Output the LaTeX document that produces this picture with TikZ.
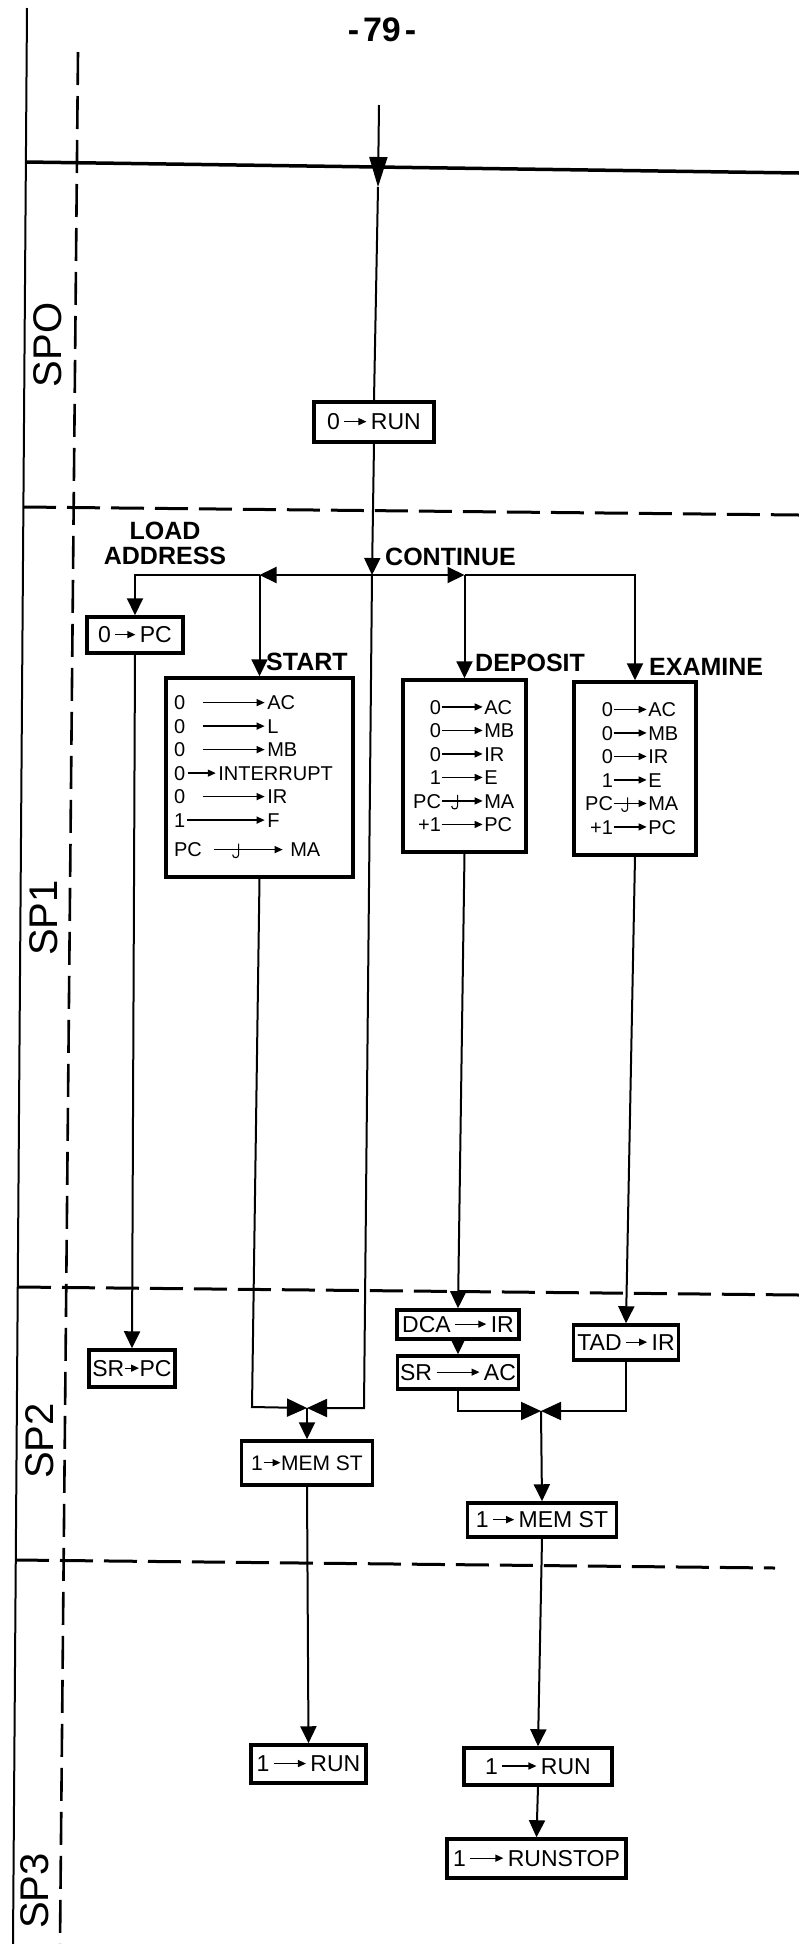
\documentclass[tikz,border=0pt]{standalone}
\usepackage{fontspec}
\setmainfont{Liberation Sans}
\usepackage{tikz}
\usetikzlibrary{arrows.meta,calc,positioning}

\newcommand{\boxfont}{\fontsize{20}{23.5}\selectfont}
\newcommand{\onefont}{\fontsize{23}{26}\selectfont}
\newcommand{\labfont}{\fontsize{25}{25}\selectfont\bfseries}
\newcommand{\sidefont}{\fontsize{40}{44}\selectfont}
% small hand arrows inside the boxes
\newcommand{\toarr}[1]{\tikz[baseline=-0.36em]\draw[line width=1.3pt,-{Triangle[length=8pt,width=7pt]}] (0pt,0pt) -- (#1pt,0pt);}
\newcommand{\jarr}[2]{\tikz[baseline=-0.36em]{\draw[line width=1.3pt,-{Triangle[length=8pt,width=7pt]}] (0pt,0pt) -- (#1pt,0pt);
  \draw[line width=1.1pt] (#2pt,6pt) -- (#2pt,-5pt) .. controls (#2pt,-9pt) and (#2pt-6pt,-9pt) .. (#2pt-6pt,-5pt);}}

\begin{document}
\begin{tikzpicture}[x=1pt, y=-1pt, every node/.style={font=\boxfont},
  box/.style={draw, line width=3.5pt, inner sep=0pt, align=center},
  one/.style={box, font=\onefont},
  flow/.style={line width=2pt},
  tip/.style={flow, -{Triangle[length=17pt,width=16pt]}},
  bigtip/.style={flow, -{Triangle[length=30pt,width=18pt]}},
  meet/.style={flow, -{Triangle[length=20pt,width=18pt]}},
  lab/.style={font=\labfont, inner sep=0pt},
  side/.style={font=\sidefont, rotate=90, inner sep=0pt},
  sep/.style={line width=3pt, dash pattern=on 33pt off 11pt}]
  \fill[white] (0,0) rectangle (799,1944);
  \useasboundingbox (0,0) rectangle (799,1944);

  % page frame and phase separators
  \draw[line width=2pt] (27,8) -- (13,1944);
  \draw[sep, line width=2.6pt] (78,52) -- (60,1944);
  \draw[line width=3.5pt] (26,162) -- (799,173);
  \draw[sep] (23,507) -- (799,515);
  \draw[sep] (18,1287) -- (799,1295);
  \draw[sep] (16,1560) -- (775,1568);

  \node[font=\fontsize{34}{36}\selectfont\bfseries] (pagenum) at (382,30) {-\kern4pt79\kern4pt-};
  \node[side] (sp0) at (48,345) {SPO};
  \node[side] (sp1) at (44,918) {SP1};
  \node[side] (sp2) at (40,1441) {SP2};
  \node[side] (sp3) at (35,1891) {SP3};

  % SP0
  \node[one, minimum width=120pt, minimum height=40pt] (run0) at (374,422) {0\,\toarr{22}\,RUN};

  % SP1
  \node[one, minimum width=96pt, minimum height=36pt] (pc0) at (135,635) {0\,\toarr{20}\,PC};
  \node[box, minimum width=187pt, minimum height=199pt, inner xsep=8pt, text width=171pt, align=left] (startbox) at (259.5,777.5) {%
    \makebox[28pt][l]{0}\toarr{62}\kern2pt AC\\
    \makebox[28pt][l]{0}\toarr{62}\kern2pt L\\
    \makebox[28pt][l]{0}\toarr{62}\kern2pt MB\\
    0\kern2pt\toarr{28}\kern2pt INTERRUPT\\
    \makebox[28pt][l]{0}\toarr{62}\kern2pt IR\\
    \makebox[12pt][l]{1}\toarr{78}\kern2pt F\\[6pt]
    \makebox[39pt][l]{PC}\jarr{69}{25}\kern7pt MA};
  \node[box, minimum width=123pt, minimum height=172pt, inner xsep=7pt, text width=109pt, align=left] (depbox) at (464.5,766) {%
    \makebox[31pt][r]{0}\toarr{41}\kern1pt AC\\
    \makebox[31pt][r]{0}\toarr{41}\kern1pt MB\\
    \makebox[31pt][r]{0}\toarr{41}\kern1pt IR\\
    \makebox[31pt][r]{1}\toarr{41}\kern1pt E\\
    \makebox[31pt][r]{PC}\jarr{41}{16}\kern1pt MA\\
    \makebox[31pt][r]{+1}\toarr{41}\kern1pt PC};
  \node[box, minimum width=122pt, minimum height=173pt, inner xsep=6pt, text width=110pt, align=left] (exbox) at (635,768.5) {%
    \makebox[33pt][r]{0}\toarr{33}\kern1pt AC\\
    \makebox[33pt][r]{0}\toarr{33}\kern1pt MB\\
    \makebox[33pt][r]{0}\toarr{33}\kern1pt IR\\
    \makebox[33pt][r]{1}\toarr{33}\kern1pt E\\
    \makebox[33pt][r]{PC}\jarr{33}{14}\kern1pt MA\\
    \makebox[33pt][r]{+1}\toarr{33}\kern1pt PC};

  \node[lab, align=center] (loadlab) at (165,543) {LOAD\\ADDRESS};
  \node[lab, anchor=west] (contlab) at (385,557) {CONTINUE};
  \node[lab, anchor=west] (startlab) at (266,662) {START};
  \node[lab, anchor=west] (deplab) at (475,663) {DEPOSIT};
  \node[lab, anchor=west] (exlab) at (649,667) {EXAMINE};

  % SP2
  \node[one, minimum width=86pt, minimum height=37pt] (srpc) at (132,1368.5) {SR\toarr{14}PC};
  \node[one, minimum width=122pt, minimum height=29pt] (dca) at (458,1324.5) {DCA\,\toarr{31}\,IR};
  \node[one, minimum width=121pt, minimum height=33pt] (srac) at (458,1372.5) {SR\,\toarr{43}\,AC};
  \node[one, minimum width=105pt, minimum height=35pt] (tad) at (626,1342.5) {TAD\,\toarr{21}\,IR};
  \node[one, minimum width=131pt, minimum height=44pt, font=\fontsize{21}{24}\selectfont] (memL) at (307,1463) {1\toarr{17}MEM ST};
  \node[one, minimum width=149pt, minimum height=34pt] (memR) at (542,1520) {1\,\toarr{21}\,MEM ST};

  % SP3
  \node[one, minimum width=115pt, minimum height=38pt] (runL) at (308.5,1764) {1\,\toarr{32}\,RUN};
  \node[one, minimum width=148pt, minimum height=37pt] (runR) at (538,1766.5) {1\,\toarr{34}\,RUN};
  \node[one, minimum width=179pt, minimum height=39pt] (runstop) at (536.5,1858.5) {1\,\toarr{33}\,RUNSTOP};

  % junctions
  \coordinate (top) at (379,105);
  \coordinate (ain) at (378,187);
  \coordinate (jc) at (372,575);
  \coordinate (js) at (startbox.north |- jc);
  \coordinate (jd) at (depbox.north |- jc);
  \coordinate (je) at (exbox.north |- jc);
  \coordinate (cm) at (364,1408);
  \coordinate (sm) at (252,1407);
  \coordinate (mL) at (memL.north |- cm);
  \coordinate (mR) at (541,1411);
  \coordinate (rl) at (srac.south |- mR);
  \coordinate (rr) at (tad.south |- mR);

  % connectors
  \draw[bigtip] (top) -- (ain);
  \draw[flow] (ain) -- (run0.north);
  \draw[tip] (run0.south) -- (jc);
  \draw[tip] (jc) -- (js);
  \draw[tip] (js) -- (pc0.north |- js) -- (pc0.north);
  \draw[tip] (js) -- (startbox.north);
  \draw[tip] (jc) -- (jd);
  \draw[tip] (jd) -- (depbox.north);
  \draw[tip] (jd) -- (je) -- (exbox.north);
  \draw[tip] (pc0.south) -- (srpc.north);
  \draw[tip] (depbox.south) -- (dca.north);
  \draw[tip] (dca.south) -- (srac.north);
  \draw[tip] (exbox.south) -- (tad.north);
  \draw[meet] (startbox.south) -- (sm) -- (mL);
  \draw[meet] (jc) -- (cm) -- (mL);
  \draw[tip] (mL) -- (memL.north);
  \draw[meet] (srac.south) -- (rl) -- (mR);
  \draw[meet] (tad.south) -- (rr) -- (mR);
  \draw[tip] (mR) -- (memR.north);
  \draw[tip] (memL.south) -- (runL.north);
  \draw[tip] (memR.south) -- (runR.north);
  \draw[tip] (runR.south) -- (runstop.north);
\end{tikzpicture}
\end{document}
